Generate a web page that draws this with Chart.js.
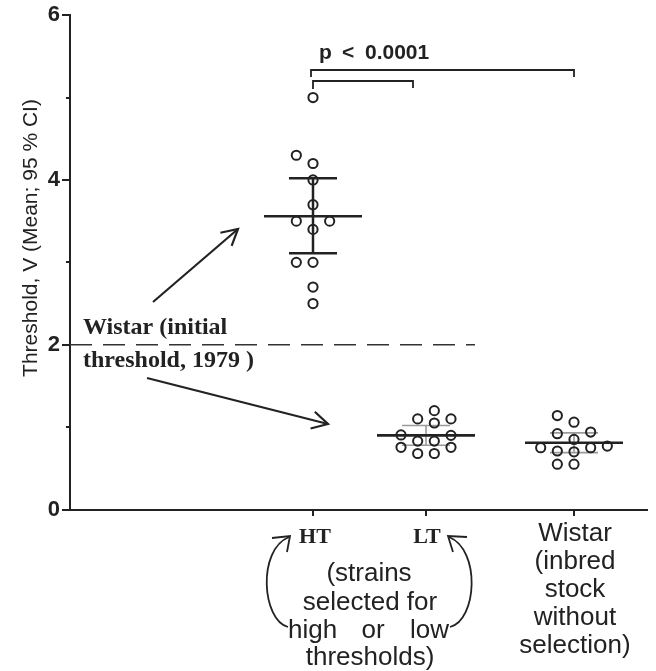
<!DOCTYPE html>
<html>
<head>
<meta charset="utf-8">
<script src="https://cdn.jsdelivr.net/npm/chart.js@4.4.1/dist/chart.umd.min.js"></script>
<style>
  html, body { margin: 0; padding: 0; background: #fff; }
  #wrap { width: 656px; height: 671px; }
</style>
</head>
<body>
<div id="wrap"><canvas id="chart" width="656" height="671"></canvas></div>
<script>
const groups = ["HT", "LT", "Wistar"];
const htValues = [5.0, 4.3, 4.2, 4.0, 3.7, 3.5, 3.5, 3.4, 3.0, 3.0, 2.7, 2.5];
const ltValues = [1.2, 1.1, 1.1, 1.05, 0.9, 0.905, 0.83, 0.83, 0.755, 0.755, 0.68, 0.68];
const wistarValues = [1.14, 1.06, 0.94, 0.92, 0.85, 0.77, 0.75, 0.75, 0.71, 0.70, 0.55, 0.55];
const means = [3.56, 0.90, 0.81];
const ciLow = [3.11, 0.78, 0.69];
const ciHigh = [4.02, 1.02, 0.93];
const yTicks = [0, 2, 4, 6];
const initialThreshold = 2;

const groupValues = [htValues, ltValues, wistarValues];
// x axis in pixel-like units across the plot width
const groupX = [243, 356, 504];
const INK = "#222";
const SANS = "'Liberation Sans', Arial, sans-serif";
const SERIF = "'Liberation Serif', 'Times New Roman', serif";

// bottom-up dot swarm, like a scatter dot plot (box collision)
function swarm(values, yScale) {
  const step = 8.33, boxW = 2 * step - 0.05, boxH = 10;
  const order = values.map((v, i) => i).sort((a, b) => values[a] - values[b]);
  const placed = [];
  const offsets = new Array(values.length).fill(0);
  order.forEach(i => {
    const py = yScale.getPixelForValue(values[i]);
    for (let k = 0; k < 30; k++) {
      const dx = k === 0 ? 0 : (k % 2 ? -1 : 1) * Math.ceil(k / 2) * step;
      const free = placed.every(p => Math.abs(p.dx - dx) >= boxW || Math.abs(p.py - py) >= boxH);
      if (free) {
        placed.push({ dx, py });
        offsets[i] = dx;
        break;
      }
    }
  });
  const shift = (Math.min(...offsets) + Math.max(...offsets)) / 2;
  return offsets.map(d => d - shift);
}

function arrowHead(ctx, x1, y1, x2, y2, len) {
  const a = Math.atan2(y2 - y1, x2 - x1);
  ctx.beginPath();
  ctx.moveTo(x2 - len * Math.cos(a - 0.5), y2 - len * Math.sin(a - 0.5));
  ctx.lineTo(x2, y2);
  ctx.lineTo(x2 - len * Math.cos(a + 0.5), y2 - len * Math.sin(a + 0.5));
  ctx.stroke();
}

const decorations = {
  id: "decorations",
  afterDraw(chart) {
    const ctx = chart.ctx;
    const x = chart.scales.x, y = chart.scales.y;
    const area = chart.chartArea;
    ctx.save();
    ctx.strokeStyle = INK;
    ctx.fillStyle = INK;
    ctx.lineCap = "butt";

    // y ticks, major and minor
    ctx.lineWidth = 2;
    for (let v = 0; v <= 6; v++) {
      const py = Math.round(y.getPixelForValue(v));
      const len = yTicks.includes(v) ? 8 : 4;
      ctx.beginPath();
      ctx.moveTo(area.left - len, py);
      ctx.lineTo(area.left, py);
      ctx.stroke();
    }

    // x axis line and ticks
    const base = Math.round(y.getPixelForValue(0));
    ctx.beginPath();
    ctx.moveTo(area.left - 1, base);
    ctx.lineTo(area.right, base);
    ctx.stroke();
    groupX.forEach(gx => {
      const px = Math.round(x.getPixelForValue(gx));
      ctx.beginPath();
      ctx.moveTo(px, base);
      ctx.lineTo(px, base + 6);
      ctx.stroke();
    });

    // y title
    ctx.save();
    ctx.translate(31, 238);
    ctx.rotate(-Math.PI / 2);
    ctx.font = "21px " + SANS;
    ctx.textAlign = "center";
    ctx.textBaseline = "middle";
    ctx.fillText("Threshold, V (Mean; 95 % CI)", 0, 0);
    ctx.restore();

    // significance brackets
    const hx = x.getPixelForValue(groupX[0]);
    const lx = x.getPixelForValue(groupX[1]);
    const wx = x.getPixelForValue(groupX[2]);
    ctx.lineWidth = 1.8;
    ctx.beginPath();
    ctx.moveTo(hx - 2, 77); ctx.lineTo(hx - 2, 70); ctx.lineTo(wx, 70); ctx.lineTo(wx, 77);
    ctx.stroke();
    ctx.beginPath();
    ctx.moveTo(hx, 89); ctx.lineTo(hx, 81); ctx.lineTo(lx - 13, 81); ctx.lineTo(lx - 13, 88);
    ctx.stroke();
    ctx.font = "bold 21px " + SANS;
    ctx.textAlign = "left";
    ctx.textBaseline = "alphabetic";
    ctx.fillText("p", 319, 59);
    ctx.fillText("<", 342, 59);
    ctx.fillText("0.0001", 365, 59);

    // note on the initial threshold
    ctx.font = "bold 24px " + SERIF;
    ctx.fillText("Wistar (initial", 83, 334);
    ctx.fillText("threshold, 1979 )", 83, 367);

    // straight arrows
    ctx.lineWidth = 2.2;
    ctx.beginPath(); ctx.moveTo(153, 302); ctx.lineTo(238, 229); ctx.stroke();
    arrowHead(ctx, 153, 302, 238, 229, 18);
    ctx.beginPath(); ctx.moveTo(147, 378); ctx.lineTo(328, 424); ctx.stroke();
    arrowHead(ctx, 147, 378, 328, 424, 18);

    // group labels
    ctx.font = "bold 22px " + SERIF;
    ctx.textAlign = "center";
    ctx.fillText("HT", hx + 2, 543);
    ctx.fillText("LT", lx + 1, 543);

    ctx.font = "26px " + SANS;
    ctx.fillText("(strains", 369, 581);
    ctx.fillText("selected for", 370, 610);
    ctx.textAlign = "left";
    ctx.fillText("high", 288, 638);
    ctx.textAlign = "center";
    ctx.fillText("or", 373, 638);
    ctx.textAlign = "right";
    ctx.fillText("low", 449, 638);
    ctx.textAlign = "center";
    ctx.fillText("thresholds)", 370, 665);

    ["Wistar", "(inbred", "stock", "without", "selection)"].forEach((t, i) => {
      ctx.fillText(t, wx + 1, 541 + i * 28);
    });

    // curved arrows
    ctx.lineWidth = 1.8;
    ctx.beginPath();
    ctx.moveTo(288, 627);
    ctx.bezierCurveTo(262, 620, 257, 550, 289, 537);
    ctx.stroke();
    ctx.beginPath();
    ctx.moveTo(272, 538); ctx.lineTo(290, 536); ctx.lineTo(287, 552);
    ctx.stroke();
    ctx.beginPath();
    ctx.moveTo(450, 627);
    ctx.bezierCurveTo(477, 620, 481, 550, 449, 537);
    ctx.stroke();
    ctx.beginPath();
    ctx.moveTo(467, 537); ctx.lineTo(448, 536); ctx.lineTo(453, 552);
    ctx.stroke();

    ctx.restore();
  }
};

const chart = new Chart(document.getElementById("chart"), {
  type: "scatter",
  data: { datasets: [] },
  options: {
    responsive: false,
    animation: false,
    devicePixelRatio: 1,
    layout: { padding: { top: 15, right: 8, bottom: 161, left: 0 } },
    plugins: { legend: { display: false }, tooltip: { enabled: false } },
    scales: {
      x: { type: "linear", min: 0, max: 578, display: false },
      y: {
        type: "linear",
        min: 0,
        max: 6,
        afterFit: s => { s.width = 70; },
        grid: { display: false },
        border: { display: true, width: 2, color: INK },
        ticks: {
          stepSize: 2,
          padding: 2,
          color: INK,
          font: { family: SANS, size: 22, weight: "bold" },
          callback: v => (yTicks.includes(v) ? v : "")
        }
      }
    }
  },
  plugins: [decorations]
});

// pin the plot area: 6 at y=15, 0 at y=509.5
const pad = chart.options.layout.padding;
pad.top += 15 - chart.chartArea.top;
pad.bottom += chart.chartArea.bottom - 509.5;
chart.update("none");

// build marks now that the scales exist
const xs = chart.scales.x, ys = chart.scales.y;
const px2x = (gx, dpx) => xs.getValueForPixel(xs.getPixelForValue(gx) + dpx);
const datasets = [];

groupValues.forEach((vals, g) => {
  const offs = swarm(vals, ys);
  const gx = groupX[g];
  datasets.push({
    type: "scatter",
    label: groups[g],
    data: vals.map((v, i) => ({ x: px2x(gx, offs[i]), y: v })),
    pointRadius: 4.6,
    pointBorderWidth: 2,
    pointBorderColor: INK,
    pointBackgroundColor: "rgba(0,0,0,0)",
    order: 1
  });
  datasets.push({
    type: "line",
    label: groups[g] + " CI",
    data: [
      { x: px2x(gx, -24), y: ciHigh[g] }, { x: px2x(gx, 24), y: ciHigh[g] }, { x: gx, y: null },
      { x: px2x(gx, -24), y: ciLow[g] }, { x: px2x(gx, 24), y: ciLow[g] }, { x: gx, y: null },
      { x: gx, y: ciLow[g] }, { x: gx, y: ciHigh[g] }
    ],
    borderColor: g === 0 ? INK : "#9a9a9a",
    borderWidth: g === 0 ? 2.5 : 1.6,
    pointRadius: 0,
    spanGaps: false,
    order: 3
  });
  datasets.push({
    type: "line",
    label: groups[g] + " mean",
    data: [{ x: px2x(gx, -49), y: means[g] }, { x: px2x(gx, 49), y: means[g] }],
    borderColor: INK,
    borderWidth: 2.6,
    pointRadius: 0,
    order: 2
  });
});

datasets.push({
  type: "line",
  label: "Wistar 1979",
  data: [{ x: 0, y: initialThreshold }, { x: px2x(groupX[1], 49), y: initialThreshold }],
  borderColor: "#333",
  borderWidth: 1.5,
  borderDash: [22, 11],
  pointRadius: 0,
  order: 4
});

chart.data.datasets = datasets;
chart.update("none");
</script>
</body>
</html>
